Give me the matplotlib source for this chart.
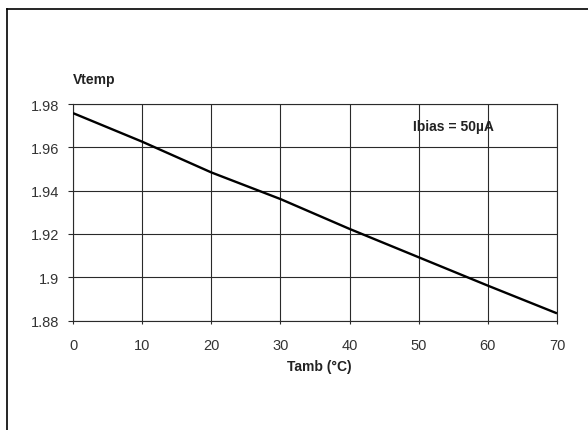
import matplotlib
matplotlib.use('Agg')
import matplotlib.pyplot as plt
from matplotlib.lines import Line2D

# Vtemp vs ambient temperature
tamb = [0, 10, 20, 30, 40, 50, 60, 70]
vtemp = [1.9758, 1.9626, 1.9484, 1.9361, 1.9223, 1.9092, 1.8961, 1.8833]
x_ticks = [0, 10, 20, 30, 40, 50, 60, 70]
y_ticks = [1.88, 1.9, 1.92, 1.94, 1.96, 1.98]
y_tick_labels = ['1.88', '1.9', '1.92', '1.94', '1.96', '1.98']

plt.rcParams['font.family'] = ['Liberation Sans', 'DejaVu Sans']

W, H = 588, 431
fig = plt.figure(figsize=(W / 100, H / 100), dpi=100)
ax = fig.add_axes([73 / W, 1 - 321.5 / H, (557 - 73) / W, (321.5 - 105) / H])

ax.plot(tamb, vtemp, '-', color='black', linewidth=1.7, solid_capstyle='butt', zorder=3)

ax.set_xlim(0, 70)
ax.set_ylim(1.88, 1.98)
ax.set_xticks(x_ticks)
ax.set_yticks(y_ticks)
ax.set_yticklabels(y_tick_labels)
ax.grid(True, color='#2a2a2a', linewidth=0.8)
for side in ax.spines.values():
    side.set_color('#2a2a2a')
    side.set_linewidth(0.8)
ax.tick_params(axis='y', direction='out', length=3.6, width=0.8, pad=6.5,
               labelsize=10.5, labelcolor='#333333', color='#2a2a2a')
ax.tick_params(axis='x', direction='out', length=2.5, width=0.8, pad=10,
               labelsize=10.5, labelcolor='#333333', color='#2a2a2a')

ax.text(49.2, 1.9698, 'Ibias = 50µA', fontsize=10, fontweight='bold',
        ha='left', va='center', zorder=4, color='#222222')
fig.text(73 / W, 1 - 80 / H, 'Vtemp', fontsize=10, fontweight='bold',
         ha='left', va='center', color='#222222')
fig.text(319 / W, 1 - 367 / H, 'Tamb (°C)', fontsize=10, fontweight='bold',
         ha='center', va='center', color='#222222')

# outer frame (top and left edges only are visible)
fig.add_artist(Line2D([7 / W, 1], [1 - 10 / H, 1 - 10 / H], color='black', linewidth=1.2))
fig.add_artist(Line2D([7 / W, 7 / W], [0, 1 - 10 / H], color='black', linewidth=1.2))

fig.savefig('out.png', dpi=100)
